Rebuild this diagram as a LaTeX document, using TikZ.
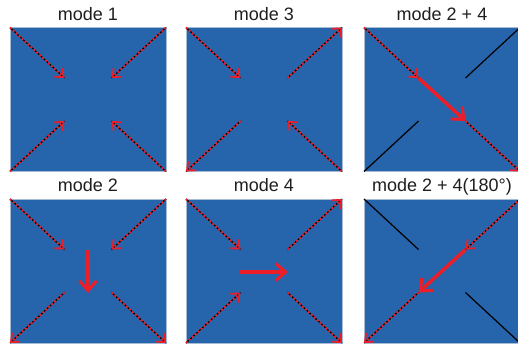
\documentclass[tikz,border=0pt]{standalone}
\usepackage{fontspec}
\setmainfont{Liberation Sans}
\usetikzlibrary{arrows.meta}
\definecolor{pblue}{RGB}{38,100,172}
\definecolor{pborder}{RGB}{165,188,214}
\definecolor{mred}{RGB}{236,30,40}
\definecolor{tgray}{RGB}{30,30,30}
\tikzset{
  panel/.style={fill=pblue, draw=pborder, line width=0.8pt},
  title/.style={font=\fontsize{18}{20}\selectfont, text=tgray, anchor=base, inner sep=0pt},
  dotline/.style={draw=mred, line width=2pt, dash pattern=on 2pt off 2pt,
    preaction={draw=black, line width=1.3pt, solid, -}},
  dotarr/.style={dotline, -{Straight Barb[length=7pt,width=12pt,line width=1.8pt]}},
  bigarr/.style={draw=mred, line width=3.5pt, -{Straight Barb[length=10pt,width=17pt,line width=3pt]}},
  blk/.style={draw=black, line width=1.2pt}
}
\begin{document}
\begin{tikzpicture}[x=1pt,y=-1pt]
\useasboundingbox (0,0) rectangle (518,343);
% panels and titles
\foreach \n/\cx/\cy/\t in {a/88/99.5/{mode 1}, b/264/99.5/{mode 3}, c/442/99.5/{mode 2 + 4},
                           d/88/271/{mode 2}, e/264/271/{mode 4}, f/442/271/{mode 2 + 4(180°)}}{
  \path[panel] (\cx-78,\cy-72) rectangle (\cx+78,\cy+72);
  \node[title] (\n-title) at (\cx,\cy-79.5) {\t};
  \coordinate (\n-tl) at (\cx-78,\cy-72);
  \coordinate (\n-tr) at (\cx+78,\cy-72);
  \coordinate (\n-bl) at (\cx-78,\cy+72);
  \coordinate (\n-br) at (\cx+78,\cy+72);
  \coordinate (\n-itl) at (\cx-23.5,\cy-21.5);
  \coordinate (\n-itr) at (\cx+23.5,\cy-21.5);
  \coordinate (\n-ibl) at (\cx-23.5,\cy+21.5);
  \coordinate (\n-ibr) at (\cx+23.5,\cy+21.5);
}
% mode 1
\draw[dotarr] (a-tl) -- (a-itl);
\draw[dotarr] (a-tr) -- (a-itr);
\draw[dotarr] (a-bl) -- (a-ibl);
\draw[dotarr] (a-br) -- (a-ibr);
% mode 3
\draw[dotarr] (b-tl) -- (b-itl);
\draw[dotarr] (b-itr) -- (b-tr);
\draw[dotarr] (b-ibl) -- (b-bl);
\draw[dotarr] (b-br) -- (b-ibr);
% mode 2 + 4
\draw[blk] (c-tr) -- (c-itr);
\draw[blk] (c-bl) -- (c-ibl);
\draw[dotarr] (c-tl) -- (c-itl);
\draw[dotarr] (c-ibr) -- (c-br);
\draw[bigarr] (c-itl) -- (c-ibr);
% mode 2
\draw[dotarr] (d-tl) -- (d-itl);
\draw[dotarr] (d-tr) -- (d-itr);
\draw[dotarr] (d-ibl) -- (d-bl);
\draw[dotarr] (d-ibr) -- (d-br);
\coordinate (d-ct) at (88,250);
\coordinate (d-cb) at (88,293);
\draw[bigarr] (d-ct) -- (d-cb);
% mode 4
\draw[dotarr] (e-tl) -- (e-itl);
\draw[dotarr] (e-itr) -- (e-tr);
\draw[dotarr] (e-bl) -- (e-ibl);
\draw[dotarr] (e-ibr) -- (e-br);
\coordinate (e-cl) at (240,272);
\coordinate (e-cr) at (288,272);
\draw[bigarr] (e-cl) -- (e-cr);
% mode 2 + 4(180)
\draw[blk] (f-tl) -- (f-itl);
\draw[blk] (f-br) -- (f-ibr);
\draw[dotarr] (f-tr) -- (f-itr);
\draw[dotarr] (f-ibl) -- (f-bl);
\draw[bigarr] (f-itr) -- (f-ibl);
\end{tikzpicture}
\end{document}
